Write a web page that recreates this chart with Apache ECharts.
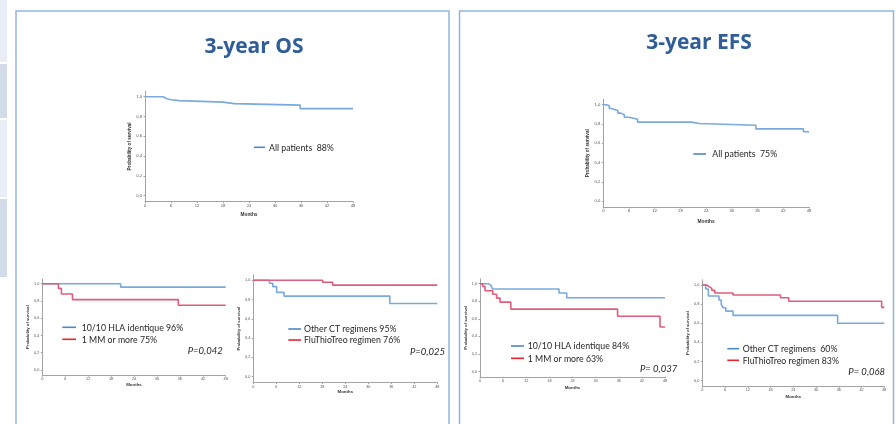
<!DOCTYPE html>
<html>
<head>
<meta charset="utf-8">
<script src="https://cdn.jsdelivr.net/npm/echarts@6/dist/echarts.min.js"></script>
<style>
  html, body { margin: 0; padding: 0; background: #ffffff; }
  #main { width: 896px; height: 424px; }
</style>
</head>
<body>
<div id="main"></div>
<script>
// Axis ticks shared by every Kaplan-Meier panel
const monthTicks = [0, 6, 12, 18, 24, 30, 36, 42, 48];
const survTicks = [0, 0.2, 0.4, 0.6, 0.8, 1.0];

// Overall survival, all patients
const osAllMonths = [0, 4.2, 5.0, 6.0, 7.9, 18.0, 20.6, 35.8, 48];
const osAllSurv   = [1.0, 0.98, 0.97, 0.96, 0.945, 0.93, 0.915, 0.88, 0.88];

// Overall survival by HLA matching
const osHlaMonths = [0, 20.5, 48];
const osHlaSurv   = [1.0, 0.96, 0.96];
const osMmMonths  = [0, 4.2, 5.0, 7.9, 35.6, 48];
const osMmSurv    = [1.0, 0.946, 0.88, 0.815, 0.75, 0.75];

// Overall survival by conditioning regimen
const osLowMonths  = [0, 4.2, 5.1, 6.1, 8.0, 35.6, 48];
const osLowSurv    = [1.0, 0.969, 0.934, 0.875, 0.836, 0.76, 0.76];
const osHighMonths = [0, 18.1, 20.7, 48];
const osHighSurv   = [1.0, 0.979, 0.95, 0.95];

// Event-free survival, all patients
const efsAllMonths = [0, 0.8, 1.4, 1.9, 2.6, 3.4, 4.1, 4.9, 6.0, 8.0, 20.5, 22.4, 35.6, 46.7, 48];
const efsAllSurv   = [1.0, 0.99, 0.96, 0.95, 0.94, 0.913, 0.896, 0.87, 0.85, 0.82, 0.806, 0.788, 0.75, 0.72, 0.72];

// Event-free survival by HLA matching
const efsHlaMonths = [0, 2.2, 2.9, 3.2, 20.5, 22.5, 48];
const efsHlaSurv   = [1.0, 0.98, 0.96, 0.94, 0.894, 0.84, 0.84];
const efsMmMonths  = [0, 0.7, 1.3, 3.3, 4.3, 5.2, 8.0, 35.7, 46.7, 48];
const efsMmSurv    = [1.0, 0.97, 0.92, 0.88, 0.836, 0.79, 0.71, 0.63, 0.506, 0.506];

// Event-free survival by conditioning regimen
const efsOtherMonths = [0, 0.9, 1.6, 4.4, 5.0, 5.5, 6.2, 8.1, 35.7, 48];
const efsOtherSurv   = [1.0, 0.958, 0.885, 0.843, 0.797, 0.762, 0.727, 0.682, 0.60, 0.60];
const efsFluMonths   = [0, 1.1, 1.9, 2.5, 3.3, 8.1, 20.6, 22.8, 47.3, 48];
const efsFluSurv     = [1.0, 0.98, 0.965, 0.944, 0.916, 0.895, 0.867, 0.83, 0.766, 0.766];

// Slide text
const titles = ['3-year OS', '3-year EFS'];
const legendOsAll = 'All patients  88%';
const legendEfsAll = 'All patients  75%';
const legendOsHla = ['10/10 HLA identique 96%', '1 MM or more 75%'];
const legendOsReg = ['Other CT regimens 95%', 'FluThioTreo regimen 76%'];
const legendEfsHla = ['10/10 HLA identique 84%', '1 MM or more 63%'];
const legendEfsReg = ['Other CT regimens  60%', 'FluThioTreo regimen 83%'];
const pValues = ['P=0,042', 'P=0,025', 'P= 0,037', 'P= 0,068'];

const BLUE_CURVE = '#79aadd';
const RED_CURVE = '#df5d7b';
const BLUE_KEY = '#4f86c6';
const RED_KEY = '#e8232f';
const AXIS = '#a3a3a3';
const Y_MIN = -0.06, Y_MAX = 1.055;

const toPairs = (xs, ys) => xs.map((m, i) => [m, ys[i]]);

// Panel frames in pixels: x of month 0 / month 48, y of survival 1.0 / 0.0
const panels = [
  { x0: 145,   x48: 353,   y1: 96.7,  y0: 195.7, gx: 11, gy: 10, fs: 4.2,
    curves: [[osAllMonths, osAllSurv, BLUE_CURVE]] },
  { x0: 42.3,  x48: 225.7, y1: 283.7, y0: 370,   gx: 8,  gy: 9,  fs: 3.8,
    curves: [[osHlaMonths, osHlaSurv, BLUE_CURVE], [osMmMonths, osMmSurv, RED_CURVE]] },
  { x0: 253.3, x48: 437.3, y1: 280.3, y0: 376.7, gx: 7,  gy: 9,  fs: 3.8,
    curves: [[osLowMonths, osLowSurv, BLUE_CURVE], [osHighMonths, osHighSurv, RED_CURVE]] },
  { x0: 603.3, x48: 809,   y1: 104.7, y0: 201.3, gx: 12, gy: 10, fs: 4.2,
    curves: [[efsAllMonths, efsAllSurv, BLUE_CURVE]] },
  { x0: 480,   x48: 665,   y1: 283.7, y0: 371.5, gx: 9,  gy: 9,  fs: 3.8,
    curves: [[efsHlaMonths, efsHlaSurv, BLUE_CURVE], [efsMmMonths, efsMmSurv, RED_CURVE]] },
  { x0: 702.3, x48: 884.3, y1: 285,   y0: 380.6, gx: 8,  gy: 9,  fs: 3.8,
    curves: [[efsOtherMonths, efsOtherSurv, BLUE_CURVE], [efsFluMonths, efsFluSurv, RED_CURVE]] }
];

const grid = [], xAxis = [], yAxis = [], series = [];
panels.forEach((p, i) => {
  const u = p.y0 - p.y1;
  grid.push({
    left: p.x0, top: p.y1 - (Y_MAX - 1) * u,
    width: p.x48 - p.x0, height: (Y_MAX - Y_MIN) * u,
    outerBoundsMode: 'none', containLabel: false
  });
  xAxis.push({
    gridIndex: i, type: 'value', min: 0, max: 48, interval: 6,
    name: 'Months', nameLocation: 'middle', nameGap: p.gx,
    nameTextStyle: { fontSize: p.fs + 0.6, fontWeight: 'bold', color: '#333', fontFamily: 'Liberation Sans' },
    axisLine: { show: true, onZero: false, lineStyle: { color: AXIS, width: 1 } },
    axisTick: { show: true, length: 1.5, customValues: monthTicks, lineStyle: { color: AXIS } },
    axisLabel: { customValues: monthTicks, fontSize: p.fs, color: '#555', margin: 2, fontFamily: 'Liberation Sans' },
    splitLine: { show: false }
  });
  yAxis.push({
    gridIndex: i, type: 'value', min: Y_MIN, max: Y_MAX,
    name: 'Probability of survival', nameLocation: 'middle', nameGap: p.gy, nameRotate: 90,
    nameTextStyle: { fontSize: p.fs + 0.4, fontWeight: 'bold', color: '#333', fontFamily: 'Liberation Sans' },
    axisLine: { show: true, lineStyle: { color: AXIS, width: 1 } },
    axisTick: { show: true, length: 1.5, customValues: survTicks, lineStyle: { color: AXIS } },
    axisLabel: {
      customValues: survTicks, fontSize: p.fs, color: '#555', margin: 3, fontFamily: 'Liberation Sans',
      formatter: v => v.toFixed(1).replace('.', ',')
    },
    splitLine: { show: false }
  });
  p.curves.forEach(([xs, ys, color]) => {
    series.push({
      type: 'line', step: 'end', symbol: 'none', silent: true,
      xAxisIndex: i, yAxisIndex: i,
      data: toPairs(xs, ys),
      lineStyle: { color: color, width: 1.6 }
    });
  });
});

// Slide decoration: side strip, panel frames, titles, legends and p-values
const LEG_FONT = '10px Lato';
const key = (x1, x2, y, color) => ({
  type: 'line', shape: { x1: x1, y1: y, x2: x2, y2: y },
  style: { stroke: color, lineWidth: 1.6 }
});
// Legend text is set in a narrow face, so glyphs are compressed horizontally
const label = (x, y, text, font, sx) => ({
  type: 'text', x: x, y: y, scaleX: sx || 0.875,
  style: { text: text, font: font || LEG_FONT, fill: '#262626', verticalAlign: 'middle', align: 'left' }
});
const TITLE_FONT = 'bold 21px "Open Sans"';

const graphic = [
  { type: 'rect', shape: { x: 0, y: 0, width: 7, height: 62 }, style: { fill: '#e9edf5' } },
  { type: 'rect', shape: { x: 0, y: 64, width: 7, height: 54 }, style: { fill: '#d3dbe9' } },
  { type: 'rect', shape: { x: 0, y: 120, width: 7, height: 77 }, style: { fill: '#e9edf5' } },
  { type: 'rect', shape: { x: 0, y: 199, width: 7, height: 78 }, style: { fill: '#d3dbe9' } },
  { type: 'rect', shape: { x: 16, y: 11, width: 433, height: 420 }, style: { fill: '#ffffff', stroke: '#93b5df', lineWidth: 1.5 }, z: -10 },
  { type: 'rect', shape: { x: 459.5, y: 11, width: 434, height: 420 }, style: { fill: '#ffffff', stroke: '#93b5df', lineWidth: 1.5 }, z: -10 },
  { type: 'text', x: 254, y: 47, style: { text: titles[0], font: TITLE_FONT, fill: '#2f5d97', align: 'center', verticalAlign: 'middle' } },
  { type: 'text', x: 699, y: 43.5, style: { text: titles[1], font: TITLE_FONT, fill: '#2f5d97', align: 'center', verticalAlign: 'middle' } },

  key(254, 265, 147.3, BLUE_KEY), label(269, 147.3, legendOsAll),
  key(693.3, 706, 154, BLUE_KEY), label(712.3, 154, legendEfsAll),

  key(62.3, 76, 327.3, BLUE_KEY), label(81.7, 327.3, legendOsHla[0]),
  key(62.3, 76, 339.3, RED_KEY), label(81.7, 339.3, legendOsHla[1]),
  label(187.7, 350.7, pValues[0], 'italic 10px Lato', 0.95),

  key(288.3, 301, 329, BLUE_KEY), label(304, 329, legendOsReg[0]),
  key(288.3, 301, 340, RED_KEY), label(304, 340, legendOsReg[1]),
  label(410, 352, pValues[1], 'italic 10px Lato', 0.95),

  key(511, 524, 346, BLUE_KEY), label(527.7, 346, legendEfsHla[0]),
  key(511, 524, 358.3, RED_KEY), label(527.7, 358.3, legendEfsHla[1]),
  label(640, 368.7, pValues[2], 'italic 10px Lato', 0.95),

  key(727.3, 739, 348.7, BLUE_KEY), label(742.7, 348.7, legendEfsReg[0]),
  key(727.3, 739, 360.3, RED_KEY), label(742.7, 360.3, legendEfsReg[1]),
  label(848.3, 372, pValues[3], 'italic 10px Lato', 0.95)
];

const chart = echarts.init(document.getElementById('main'), null, { renderer: 'canvas' });
chart.setOption({
  animation: false,
  backgroundColor: '#ffffff',
  grid: grid, xAxis: xAxis, yAxis: yAxis, series: series,
  graphic: graphic
});
</script>
</body>
</html>
